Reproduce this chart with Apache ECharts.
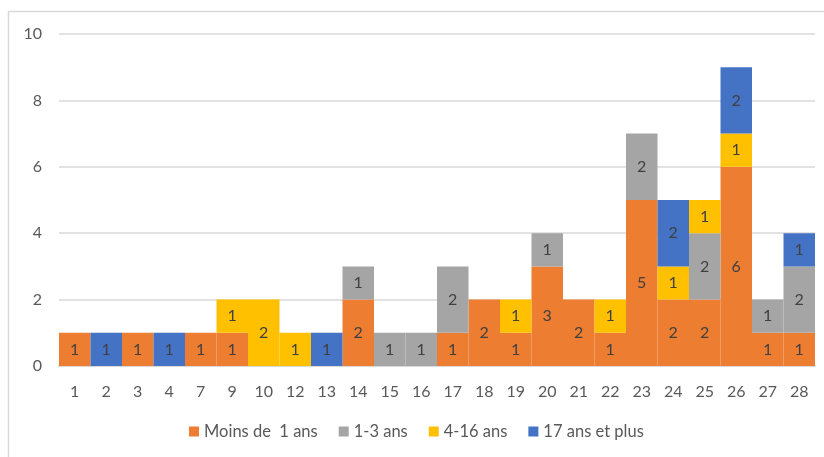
<!DOCTYPE html>
<html>
<head>
<meta charset="utf-8">
<script src="https://cdn.jsdelivr.net/npm/echarts@6/dist/echarts.min.js"></script>
<style>
  html, body { margin: 0; padding: 0; background: #fff; }
  #chart { width: 824px; height: 457px; }
</style>
</head>
<body>
<div id="chart"></div>
<script>
// Categories along the x axis
const categories = ['1','2','3','4','7','9','10','12','13','14','15','16','17','18','19','20','21','22','23','24','25','26','27','28'];

// Counts per age group (null = no segment)
const moinsDe1 = [1,null,1,null,1,1,null,null,null,2,null,null,1,2,1,3,2,1,5,2,2,6,1,1];
const ans1a3   = [null,null,null,null,null,null,null,null,null,1,1,1,2,null,null,1,null,null,2,null,2,null,1,2];
const ans4a16  = [null,null,null,null,null,1,2,1,null,null,null,null,null,null,1,null,null,1,null,1,1,1,null,null];
const ans17plus= [null,1,null,1,null,null,null,null,1,null,null,null,null,null,null,null,null,null,null,2,null,2,null,1];

const yTicks = { min: 0, max: 10, interval: 2 };

const seriesDefs = [
  { name: 'Moins de  1 ans', data: moinsDe1, color: '#ED7D31' },
  { name: '1-3 ans', data: ans1a3, color: '#A5A5A5' },
  { name: '4-16 ans', data: ans4a16, color: '#FFC000' },
  { name: '17 ans et plus', data: ans17plus, color: '#4472C4' }
];

const FONT = 'Lato, "Open Sans", sans-serif';
const chart = echarts.init(document.getElementById('chart'));
chart.setOption({
  animation: false,
  backgroundColor: '#fff',
  textStyle: { fontFamily: FONT },
  graphic: [{
    type: 'polyline',
    shape: { points: [[8.5, 470], [8.5, 11.5], [830, 11.5]] },
    style: { stroke: '#d9d9d9', lineWidth: 1.5, fill: null },
    silent: true
  }],
  grid: { left: 59, right: 9, top: 34, bottom: 91, containLabel: false },
  legend: {
    bottom: 12,
    left: 184,
    icon: 'rect',
    itemWidth: 10,
    itemHeight: 10,
    itemGap: 21,
    textStyle: { color: '#595959', fontSize: 16.5, fontFamily: FONT },
    data: seriesDefs.map(s => s.name)
  },
  xAxis: {
    type: 'category',
    data: categories,
    axisLine: { lineStyle: { color: '#d9d9d9', width: 2 } },
    axisTick: { show: false },
    axisLabel: { color: '#595959', fontSize: 16, margin: 18, fontFamily: FONT }
  },
  yAxis: {
    type: 'value',
    min: yTicks.min, max: yTicks.max, interval: yTicks.interval,
    axisLine: { show: false },
    axisTick: { show: false },
    splitLine: { lineStyle: { color: '#d9d9d9', width: 1.5 } },
    axisLabel: { color: '#595959', fontSize: 16, margin: 17, fontFamily: FONT }
  },
  series: seriesDefs.map(s => ({
    name: s.name,
    type: 'bar',
    stack: 'total',
    barCategoryGap: '0%',
    data: s.data,
    itemStyle: { color: s.color },
    label: {
      show: true,
      position: 'inside',
      color: '#404040',
      fontSize: 16,
      fontFamily: FONT
    }
  }))
});
</script>
</body>
</html>
